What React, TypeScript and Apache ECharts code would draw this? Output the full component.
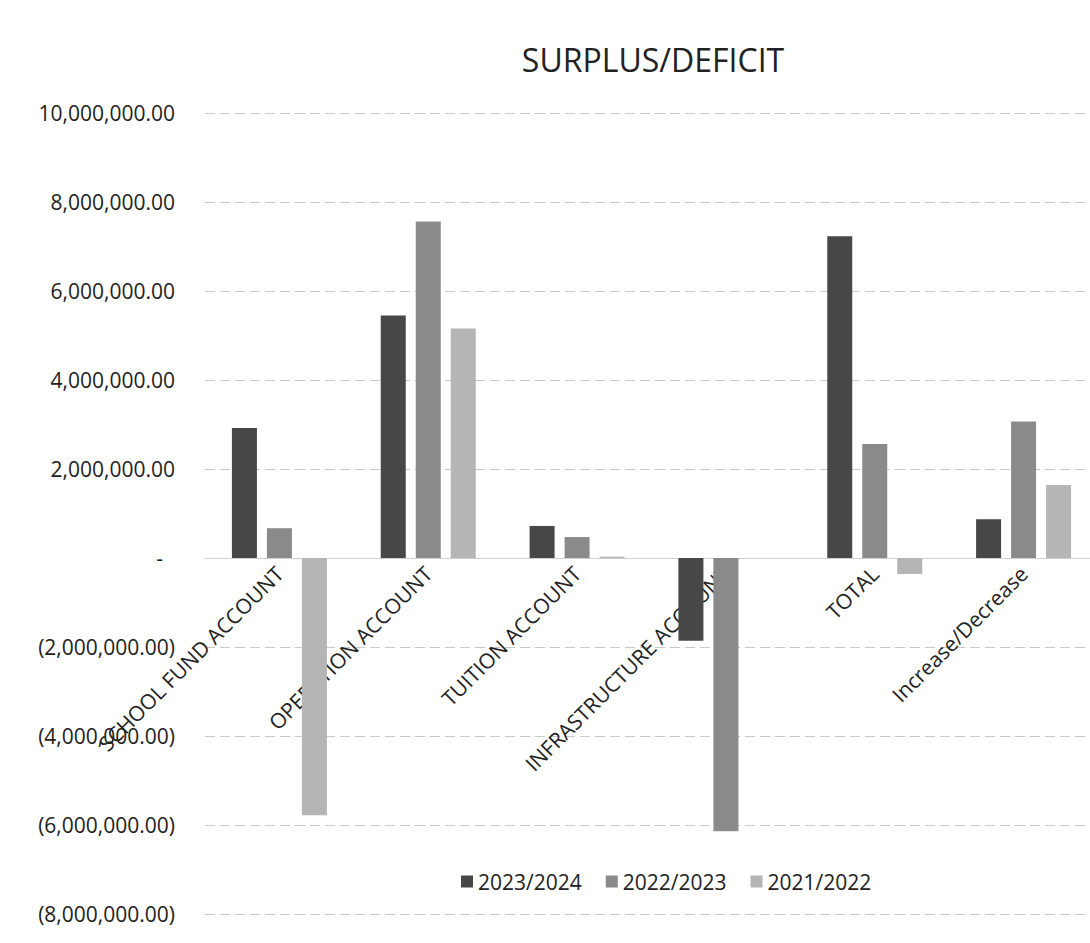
import React, { useEffect, useRef } from "react";
import * as echarts from "echarts";

const categories = [
  "SCHOOL FUND ACCOUNT",
  "OPERATION ACCOUNT",
  "TUITION ACCOUNT",
  "INFRASTRUCTURE ACCOUNT",
  "TOTAL",
  "Increase/Decrease",
];
const seriesNames = ["2023/2024", "2022/2023", "2021/2022"];
const values2324 = [2920000, 5450000, 720000, -1860000, 7230000, 870000];
const values2223 = [670000, 7560000, 470000, -6140000, 2560000, 3070000];
const values2122 = [-5780000, 5160000, 30000, 0, -360000, 1640000];
const colors = ["#474747", "#8a8a8a", "#b5b5b5"];

const fmt = (v: number) => {
  if (v === 0) return "{z|-}";
  const s = Math.abs(v).toLocaleString("en-US", { minimumFractionDigits: 2, maximumFractionDigits: 2 });
  return v < 0 ? `(${s})` : s;
};

export default function App() {
  const ref = useRef<HTMLDivElement>(null);
  useEffect(() => {
    const chart = echarts.init(ref.current!, null, { renderer: "svg" });
    const font = "'Open Sans', 'Liberation Sans', sans-serif";
    const data = [values2324, values2223, values2122];
    const gridTop = 113;
    const gridBottom = 29;
    const yMin = -8000000;
    const yMax = 10000000;
    const plotH = 943 - gridTop - gridBottom;
    const zeroFromBottom = (plotH * (0 - yMin)) / (yMax - yMin);
    chart.setOption({
      animation: false,
      backgroundColor: "#ffffff",
      textStyle: { fontFamily: font },
      title: {
        text: "SURPLUS/DEFICIT",
        left: 648,
        textAlign: "center",
        top: 38,
        textStyle: { fontFamily: font, fontSize: 32, fontWeight: "normal", color: "#222" },
      },
      legend: {
        data: seriesNames,
        left: 456,
        top: 866,
        itemWidth: 12,
        itemHeight: 12,
        itemGap: 24,
        icon: "rect",
        textStyle: { fontFamily: font, fontSize: 21, color: "#222" },
      },
      grid: { left: 205, right: -8, top: gridTop, bottom: gridBottom, containLabel: false, outerBoundsMode: "none" },
      xAxis: {
        type: "category",
        data: categories,
        position: "bottom",
        offset: -zeroFromBottom,
        axisLine: { show: true, onZero: false, lineStyle: { color: "#cfcfcf" } },
        axisTick: { show: false },
        axisLabel: {
          rotate: 45,
          interval: 0,
          fontFamily: font,
          fontSize: 21,
          color: "#222",
          margin: 12,
        },
      },
      yAxis: {
        type: "value",
        min: yMin,
        max: yMax,
        interval: 2000000,
        axisLine: { show: false },
        axisTick: { show: false },
        splitLine: { lineStyle: { color: "#c8c8c8", type: [10, 5] } },
        axisLabel: {
          formatter: fmt,
          fontFamily: font,
          fontSize: 21,
          color: "#222",
          margin: 30,
          rich: { z: { fontSize: 21, padding: [0, 12, 0, 0], color: "#222" } },
        },
      },
      series: seriesNames.map((name, i) => ({
        name,
        type: "bar",
        data: data[i],
        barWidth: 25,
        barGap: "40%",
        itemStyle: { color: colors[i] },
      })),
    });
    return () => chart.dispose();
  }, []);
  return (
    <div
      ref={ref}
      style={{ position: "fixed", left: 0, top: 0, width: 1090, height: 943 }}
    />
  );
}
